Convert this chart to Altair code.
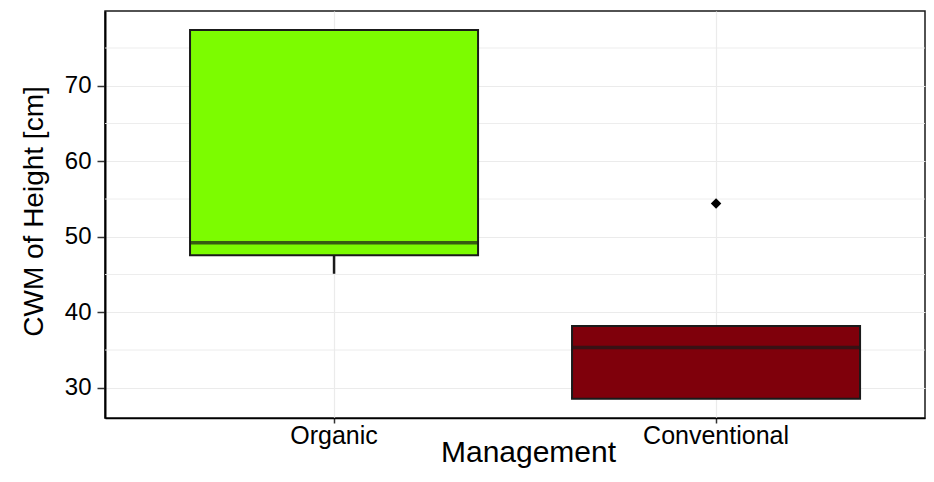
import altair as alt
import pandas as pd

# ---- data ----
categories = ["Organic", "Conventional"]
lower_whisker = [45.1, 28.55]
q1 = [47.55, 28.55]
median = [49.2, 35.35]
q3 = [77.4, 38.2]
upper_whisker = [77.4, 38.2]
box_colors = ["#7CFC00", "#7F000B"]

outlier_category = ["Conventional"]
outlier_value = [54.4]

major_ticks = [30, 40, 50, 60, 70]
minor_ticks = [35, 45, 55, 65, 75]

box_df = pd.DataFrame({
    "Management": categories,
    "low": lower_whisker,
    "q1": q1,
    "median": median,
    "q3": q3,
    "high": upper_whisker,
})
out_df = pd.DataFrame({"Management": outlier_category, "value": outlier_value})
minor_df = pd.DataFrame({"v": minor_ticks})

FONT = "Liberation Sans"
YTITLE = "CWM of Height [cm]"

xscale = alt.Scale(domain=categories, paddingInner=0.246, paddingOuter=0.1963, align=0.567)
yscale = alt.Scale(domain=[26.0, 79.9], nice=False, zero=False)

x_axis = alt.Axis(
    title="Management", bandPosition=0.5, grid=True, gridColor="#ebebeb", gridWidth=1.2,
    labelAngle=0, labelFontSize=25, labelFont=FONT, labelColor="#000000", labelPadding=0,
    tickSize=5, tickColor="#333333", tickWidth=1.5, domainColor="#000000", domainWidth=1.5,
    titleFontSize=30, titleFont=FONT, titleFontWeight="normal", titleColor="#000000",
    titleX=423, titleY=43, titleBaseline="alphabetic", titleAlign="center",
)
y_axis = alt.Axis(
    title=YTITLE, values=major_ticks, grid=True, gridColor="#ebebeb", gridWidth=1.2,
    labelFontSize=24, labelFont=FONT, labelColor="#000000", labelPadding=6,
    tickSize=8, tickColor="#333333", tickWidth=1.5, domainColor="#000000", domainWidth=2,
    titleFontSize=28, titleFont=FONT, titleFontWeight="normal", titleColor="#000000",
    titleAngle=270, titleX=-63, titleY=200, titleBaseline="alphabetic", titleAlign="center",
)

def xenc():
    return alt.X("Management:N", scale=xscale, axis=x_axis, sort=categories, title="Management")

def yenc(field):
    return alt.Y(field, scale=yscale, axis=y_axis, title=YTITLE)

minor = alt.Chart(minor_df).mark_rule(color="#ebebeb", strokeWidth=0.9).encode(
    y=yenc("v:Q")
)

boxes = alt.Chart(box_df).mark_bar(stroke="#1a1a1a", strokeWidth=2).encode(
    x=xenc(),
    y=yenc("q1:Q"),
    y2="q3:Q",
    color=alt.Color("Management:N", scale=alt.Scale(domain=categories, range=box_colors), legend=None),
)

whisk_lo = alt.Chart(box_df).mark_rule(color="#1a1a1a", strokeWidth=2.5).encode(
    x=xenc(), y=yenc("low:Q"), y2="q1:Q",
)
whisk_hi = alt.Chart(box_df).mark_rule(color="#1a1a1a", strokeWidth=2.5).encode(
    x=xenc(), y=yenc("q3:Q"), y2="high:Q",
)

med = alt.Chart(box_df).mark_tick(color="#1a1a1a", thickness=3.5, size=288).encode(
    x=xenc(), y=yenc("median:Q"),
)

outl = alt.Chart(out_df).mark_point(shape="diamond", filled=True, color="#000000", size=110, opacity=1).encode(
    x=xenc(), y=yenc("value:Q"),
)

chart = alt.layer(minor, whisk_lo, whisk_hi, boxes, med, outl).properties(
    width=820, height=407,
    padding={"left": 97, "top": 3, "right": 1, "bottom": 50},
    autosize=alt.AutoSizeParams(type="none"),
).configure_view(
    stroke="#1a1a1a", strokeWidth=1.5
)

chart.save("out.html", embed_options={"renderer": "svg", "actions": False})
